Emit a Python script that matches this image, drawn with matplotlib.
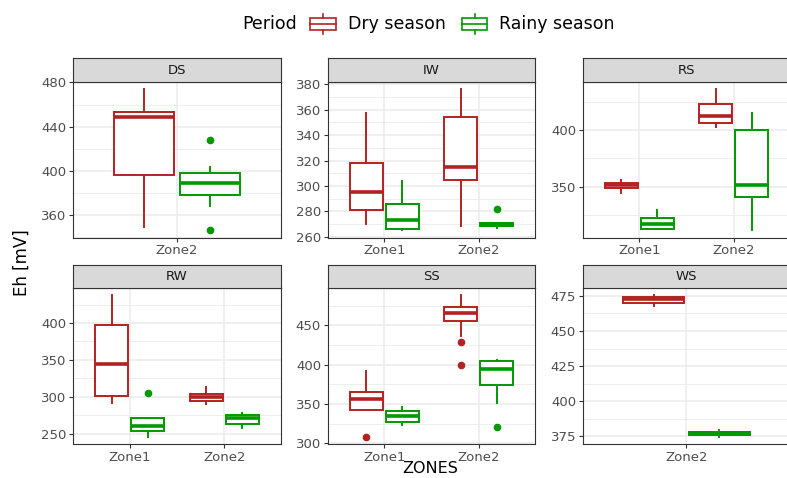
import numpy as np
import matplotlib
matplotlib.use("Agg")
import matplotlib.pyplot as plt
from matplotlib.ticker import MultipleLocator
from matplotlib.patches import Rectangle
from matplotlib.lines import Line2D

plt.rcParams['font.family'] = ['DejaVu Sans']

# data (whislo, q1, med, q3, whishi)
facets = ["DS", "IW", "RS", "RW", "SS", "WS"]
facet_zones = [["Zone2"], ["Zone1", "Zone2"], ["Zone1", "Zone2"],
               ["Zone1", "Zone2"], ["Zone1", "Zone2"], ["Zone2"]]
periods = ["Dry season", "Rainy season"]

dry_stats = [
    [[349, 396.5, 449, 453.5, 474]],
    [[269.8, 281, 295.2, 318.3, 357.2], [268.7, 305, 315, 354.5, 376.3]],
    [[344.4, 348.5, 351, 353.2, 355.5], [403.2, 406.9, 412.8, 423, 436.7]],
    [[291, 300.5, 343.7, 397.7, 437.5], [290.3, 293.9, 299.3, 303, 313]],
    [[342.7, 342.7, 356.3, 365.6, 391.5], [436.5, 455.6, 466.2, 473.4, 488.2]],
    [[467.8, 470.2, 472.5, 474.3, 475.4]],
]
dry_fliers = [[[]], [[], []], [[], []], [[], []], [[307.6], [428.8, 400]], [[]]]

rainy_stats = [
    [[368.4, 378.5, 388.6, 397.7, 403]],
    [[265, 266, 273, 285.5, 304], [267, 268.4, 269.5, 270.8, 271]],
    [[312, 312.6, 316.4, 322.3, 329], [311, 340.9, 351.8, 400, 415.4]],
    [[245, 254, 260, 270.9, 270.9], [257.7, 262.6, 270.8, 275.7, 278]],
    [[323, 326.9, 334.5, 341.2, 345.9], [351.5, 374.4, 394.2, 405.2, 406.5]],
    [[374.3, 375.7, 377, 378.3, 379.3]],
]
rainy_fliers = [[[428, 346]], [[], [281.6]], [[], []], [[305], []], [[], [321]], [[]]]

y_steps = [40, 20, 50, 50, 50, 25]

colors = ["#B22222", "#009900"]

W, H = 787, 478
fig = plt.figure(figsize=(W / 100, H / 100), dpi=100)


def fx(x):
    return x / W


def fy(y):
    return 1 - y / H


col_left = [73.3, 327.7, 582.7]
panel_w = 207.5
rows = [(58.3, 82, 237.5), (265, 288.3, 444.3)]


def make_stats(s, fl):
    return dict(whislo=s[0], q1=s[1], med=s[2], q3=s[3], whishi=s[4], fliers=fl)


for k, name in enumerate(facets):
    r, c = divmod(k, 3)
    st_top, p_top, p_bot = rows[r]
    left = col_left[c]
    ax = fig.add_axes([fx(left), fy(p_bot), panel_w / W, (p_bot - p_top) / H])
    sax = fig.add_axes([fx(left), fy(p_top), panel_w / W, (p_top - st_top) / H])
    sax.set_facecolor("#D9D9D9")
    sax.set_xticks([])
    sax.set_yticks([])
    for sp in sax.spines.values():
        sp.set_color("#333333")
        sp.set_linewidth(0.8)
    sax.text(0.5, 0.5, name, ha="center", va="center", fontsize=9.5,
             color="#1A1A1A", transform=sax.transAxes)

    zones = facet_zones[k]
    n = len(zones)
    xs = np.arange(1, n + 1)
    allv = []
    for p, (stats, fliers) in enumerate([(dry_stats[k], dry_fliers[k]),
                                         (rainy_stats[k], rainy_fliers[k])]):
        bs = [make_stats(s, f) for s, f in zip(stats, fliers)]
        for s, f in zip(stats, fliers):
            allv += list(s) + list(f)
        off = -0.19 if p == 0 else 0.19
        col = colors[p]
        ax.bxp(bs, positions=xs + off, widths=0.35, showcaps=False,
               patch_artist=True,
               boxprops=dict(facecolor="white", edgecolor=col, linewidth=1.4),
               whiskerprops=dict(color=col, linewidth=1.4),
               medianprops=dict(color=col, linewidth=2.6, solid_capstyle="butt"),
               flierprops=dict(marker="o", markerfacecolor=col,
                               markeredgecolor=col, markersize=4.5),
               manage_ticks=False)

    lo, hi = min(allv), max(allv)
    pad = (hi - lo) * 0.05
    ax.set_ylim(lo - pad, hi + pad)
    ax.set_xlim(0.4, n + 0.6)
    ax.set_xticks(xs)
    ax.set_xticklabels(zones)
    ax.yaxis.set_major_locator(MultipleLocator(y_steps[k]))
    ax.yaxis.set_minor_locator(MultipleLocator(y_steps[k] / 2))
    ax.set_axisbelow(True)
    ax.grid(which="major", color="#EBEBEB", linewidth=1.1)
    ax.grid(which="minor", axis="y", color="#EBEBEB", linewidth=0.6)
    ax.tick_params(which="minor", length=0)
    ax.tick_params(which="major", length=2.75, width=0.8, color="#333333",
                   labelcolor="#4D4D4D", labelsize=9.5, pad=2)
    for sp in ax.spines.values():
        sp.set_color("#333333")
        sp.set_linewidth(0.8)

# axis titles
fig.text(fx(430), fy(473), "ZONES", ha="center", va="baseline", fontsize=11.5)
fig.text(fx(22), fy(263), "Eh [mV]", ha="center", va="center", rotation=90,
         fontsize=12)

# legend
fig.text(fx(242), fy(24), "Period", ha="left", va="center", fontsize=12.5)
key_x = [(310, 336), (462, 487)]
label_x = [348, 499]
for p in range(2):
    x0, x1 = key_x[p]
    col = colors[p]
    xm = (x0 + x1) / 2
    fig.add_artist(Rectangle((fx(x0), fy(30)), (x1 - x0) / W, 12 / H,
                             transform=fig.transFigure, facecolor="white",
                             edgecolor=col, linewidth=1.2))
    fig.add_artist(Line2D([fx(x0), fx(x1)], [fy(24), fy(24)],
                          transform=fig.transFigure, color=col, linewidth=1.2))
    fig.add_artist(Line2D([fx(xm), fx(xm)], [fy(14), fy(18)],
                          transform=fig.transFigure, color=col, linewidth=1.2))
    fig.add_artist(Line2D([fx(xm), fx(xm)], [fy(30), fy(34)],
                          transform=fig.transFigure, color=col, linewidth=1.2))
    fig.text(fx(label_x[p]), fy(24), periods[p], ha="left", va="center",
             fontsize=12.5)

fig.savefig("out.png", dpi=100)
